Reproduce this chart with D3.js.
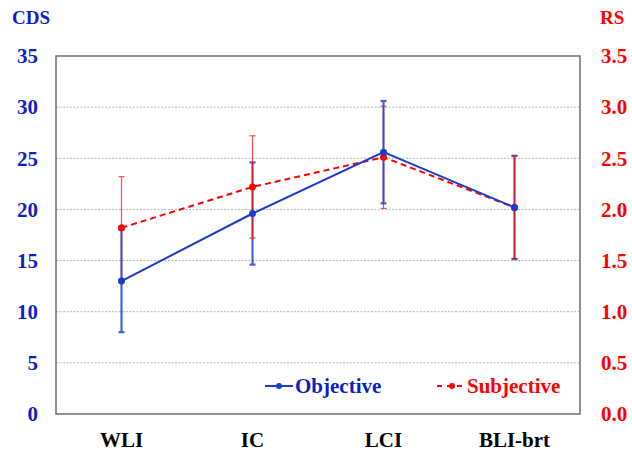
<!DOCTYPE html>
<html>
<head>
<meta charset="utf-8">
<script src="https://cdn.jsdelivr.net/npm/d3@7"></script>
<style>
  body { margin: 0; background: #fff; }
</style>
</head>
<body>
<script>
var width = 632, height = 453;

// data
var categories = ["WLI", "IC", "LCI", "BLI-brt"];
var objective = [13.0, 19.6, 25.6, 20.2];
var objectiveErr = [5.0, 5.0, 5.0, 5.05];
var subjective = [1.82, 2.22, 2.51, 2.02];
var subjectiveErr = [0.5, 0.5, 0.5, 0.5];
var leftTicks = [0, 5, 10, 15, 20, 25, 30, 35];
var rightTicks = [0, 0.5, 1.0, 1.5, 2.0, 2.5, 3.0, 3.5];

var blue = "#1a3ccc", red = "#ff0000", tickBlue = "#0f1fc8";
var serif = "'Liberation Serif', 'Times New Roman', serif";

var margin = { top: 56, right: 52, bottom: 39, left: 56 };
var plotW = width - margin.left - margin.right,
    plotH = height - margin.top - margin.bottom;

var svg = d3.select("body").append("svg")
    .attr("width", width)
    .attr("height", height);

var x = d3.scaleBand().domain(categories).range([margin.left, margin.left + plotW]);
var yL = d3.scaleLinear().domain([0, 35]).range([margin.top + plotH, margin.top]);
var yR = d3.scaleLinear().domain([0, 3.5]).range([margin.top + plotH, margin.top]);
var cx = function (d) { return x(d) + x.bandwidth() / 2; };

// gridlines
svg.append("g")
    .selectAll("line")
    .data(leftTicks.slice(1, -1))
    .enter().append("line")
    .attr("x1", margin.left).attr("x2", margin.left + plotW)
    .attr("y1", function (d) { return yL(d); })
    .attr("y2", function (d) { return yL(d); })
    .attr("stroke", "#b4b4b4")
    .attr("stroke-width", 1)
    .attr("stroke-dasharray", "2,1.5");

// frame
svg.append("rect")
    .attr("x", margin.left).attr("y", margin.top)
    .attr("width", plotW).attr("height", plotH)
    .attr("fill", "none")
    .attr("stroke", "#6e6e6e")
    .attr("stroke-width", 1.5);

function styleTicks(g, color) {
    g.select(".domain").remove();
    g.selectAll("text").attr("fill", color);
}

// left axis
svg.append("g")
    .attr("transform", "translate(" + margin.left + ",0)")
    .call(d3.axisLeft(yL).tickValues(leftTicks).tickSize(0).tickPadding(18).tickFormat(d3.format("d")))
    .call(styleTicks, tickBlue);

// right axis
svg.append("g")
    .attr("transform", "translate(" + (margin.left + plotW) + ",0)")
    .call(d3.axisRight(yR).tickValues(rightTicks).tickSize(0).tickPadding(21).tickFormat(d3.format(".1f")))
    .call(styleTicks, red);

// category labels
svg.append("g")
    .attr("transform", "translate(0," + (margin.top + plotH) + ")")
    .call(d3.axisBottom(x).tickSize(0).tickPadding(18))
    .call(styleTicks, "#000");

// axis titles
svg.append("text").attr("class", "title").attr("x", 12).attr("y", 24)
    .attr("fill", tickBlue).text("CDS");
svg.append("text").attr("class", "title").attr("x", 600).attr("y", 24)
    .attr("fill", red).text("RS");

// error bars
function errorBars(vals, errs, y, color, sw, op, cap) {
    var g = svg.append("g").attr("stroke", color).attr("stroke-width", sw).attr("opacity", op);
    categories.forEach(function (c, i) {
        var x0 = cx(c), lo = y(vals[i] - errs[i]), hi = y(vals[i] + errs[i]);
        g.append("line").attr("x1", x0).attr("x2", x0).attr("y1", lo).attr("y2", hi);
        g.append("line").attr("x1", x0 - cap).attr("x2", x0 + cap).attr("y1", lo).attr("y2", lo);
        g.append("line").attr("x1", x0 - cap).attr("x2", x0 + cap).attr("y1", hi).attr("y2", hi);
    });
}
errorBars(objective, objectiveErr, yL, blue, 2.2, 0.8, 3);
errorBars(subjective, subjectiveErr, yR, red, 1.2, 0.7, 3);

// series lines
var lineL = d3.line().x(function (d, i) { return cx(categories[i]); }).y(function (d) { return yL(d); });
var lineR = d3.line().x(function (d, i) { return cx(categories[i]); }).y(function (d) { return yR(d); });

svg.append("path").datum(subjective)
    .attr("d", lineR).attr("fill", "none")
    .attr("stroke", red).attr("stroke-width", 2).attr("stroke-dasharray", "6,4");
svg.append("path").datum(objective)
    .attr("d", lineL).attr("fill", "none")
    .attr("stroke", blue).attr("stroke-width", 2);

svg.append("g").selectAll("circle").data(subjective).enter().append("circle")
    .attr("cx", function (d, i) { return cx(categories[i]); })
    .attr("cy", function (d) { return yR(d); })
    .attr("r", 3.5).attr("fill", red);
svg.append("g").selectAll("circle").data(objective).enter().append("circle")
    .attr("cx", function (d, i) { return cx(categories[i]); })
    .attr("cy", function (d) { return yL(d); })
    .attr("r", 3.5).attr("fill", blue);

// legend
var leg = svg.append("g");
leg.append("line").attr("x1", 265).attr("x2", 293).attr("y1", 386).attr("y2", 386)
    .attr("stroke", blue).attr("stroke-width", 2);
leg.append("circle").attr("cx", 279).attr("cy", 386).attr("r", 3).attr("fill", blue);
leg.append("text").attr("x", 295).attr("y", 393).attr("fill", tickBlue).text("Objective");

leg.append("line").attr("x1", 437).attr("x2", 467).attr("y1", 386).attr("y2", 386)
    .attr("stroke", red).attr("stroke-width", 2).attr("stroke-dasharray", "5,5");
leg.append("circle").attr("cx", 452).attr("cy", 386).attr("r", 3).attr("fill", red);
leg.append("text").attr("x", 467).attr("y", 393).attr("fill", red).text("Subjective");

// fonts on every text
svg.selectAll("text")
    .style("font-family", serif)
    .style("font-weight", "bold")
    .style("font-size", "21px");
svg.selectAll("text.title").style("font-size", "19px");
</script>
</body>
</html>
